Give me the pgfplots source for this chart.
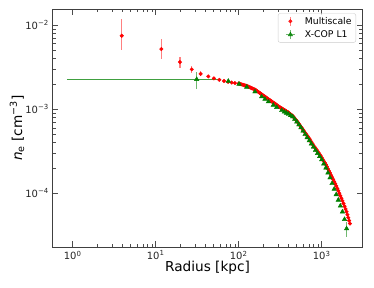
\documentclass[border=0pt]{standalone}
\usepackage{pgfplots}
\pgfplotsset{compat=1.18}
\usepackage{pgfplotstable}
\usepackage{fontspec}
\setmainfont{DejaVu Sans}
\usetikzlibrary{plotmarks}

\definecolor{mplgreen}{HTML}{008000}
\definecolor{errred}{HTML}{FF8080}
\definecolor{errgreen}{HTML}{70B870}
\definecolor{linegreen}{HTML}{40A040}

\pgfplotstableread{
x y
3.9 7.46e-3
11.7 5.18e-3
19.6 3.63e-3
27.2 2.97e-3
34.8 2.63e-3
43.0 2.45e-3
50.3 2.32e-3
58.4 2.23e-3
66.5 2.16e-3
74.5 2.11e-3
82.3 2.07e-3
90.1 2.04e-3
100 2.018e-3
102.9 2.001e-3
105.9 1.984e-3
109.0 1.967e-3
112.2 1.950e-3
115.5 1.933e-3
118.9 1.917e-3
122.4 1.900e-3
125.9 1.884e-3
129.6 1.860e-3
133.4 1.837e-3
137.3 1.812e-3
141.3 1.788e-3
145.4 1.765e-3
149.6 1.742e-3
154.0 1.720e-3
158.5 1.698e-3
163.1 1.664e-3
167.9 1.631e-3
172.8 1.599e-3
177.8 1.567e-3
183.0 1.536e-3
188.4 1.505e-3
193.9 1.475e-3
199.5 1.445e-3
205.3 1.416e-3
211.3 1.388e-3
217.5 1.361e-3
223.9 1.334e-3
230.4 1.307e-3
237.1 1.281e-3
244.1 1.255e-3
251.2 1.230e-3
258.5 1.206e-3
266.1 1.182e-3
273.8 1.158e-3
281.8 1.135e-3
290.0 1.112e-3
298.5 1.090e-3
307.2 1.068e-3
316.2 1.047e-3
325.5 1.029e-3
335.0 1.012e-3
344.8 9.94e-4
354.8 9.77e-4
365.1 9.60e-4
375.8 9.44e-4
386.8 9.28e-4
398.1 9.12e-4
409.7 8.91e-4
421.7 8.71e-4
434.0 8.51e-4
446.7 8.32e-4
459.8 8.04e-4
473.2 7.76e-4
487.0 7.50e-4
501.2 7.24e-4
515.8 6.96e-4
530.9 6.68e-4
546.4 6.42e-4
562.3 6.17e-4
578.8 5.93e-4
595.7 5.69e-4
613.1 5.47e-4
631.0 5.25e-4
649.4 5.04e-4
668.3 4.84e-4
687.8 4.65e-4
707.9 4.47e-4
728.6 4.27e-4
749.9 4.07e-4
771.8 3.89e-4
794.3 3.72e-4
817.5 3.57e-4
841.4 3.43e-4
866.0 3.29e-4
891.3 3.16e-4
917.3 3.03e-4
944.1 2.90e-4
971.6 2.78e-4
1000 2.66e-4
1029 2.53e-4
1059 2.41e-4
1090 2.30e-4
1122 2.19e-4
1155 2.07e-4
1189 1.95e-4
1224 1.84e-4
1259 1.74e-4
1296 1.64e-4
1334 1.55e-4
1373 1.46e-4
1413 1.38e-4
1454 1.30e-4
1496 1.22e-4
1540 1.14e-4
1585 1.07e-4
1631 1.00e-4
1679 9.33e-5
1728 8.71e-5
1778 8.13e-5
1830 7.55e-5
1884 7.00e-5
1939 6.50e-5
1995 6.03e-5
2041 5.56e-5
2089 5.13e-5
2138 4.73e-5
2188 4.37e-5
}\multiscale

\pgfplotstableread{
x y
75.0 2.153e-3
101 1.989e-3
125 1.832e-3
157 1.611e-3
189 1.406e-3
207 1.315e-3
228 1.227e-3
261 1.117e-3
287 1.052e-3
330 9.66e-4
354.8 9.28e-4
375.8 8.99e-4
398.1 8.71e-4
421.7 8.41e-4
446.7 8.13e-4
473.2 7.59e-4
501.2 7.08e-4
530.9 6.53e-4
562.3 6.03e-4
595.7 5.50e-4
631.0 5.01e-4
668.3 4.60e-4
707.9 4.22e-4
749.9 3.87e-4
794.3 3.55e-4
841.4 3.25e-4
891.3 2.99e-4
944.1 2.74e-4
1000 2.51e-4
1059 2.24e-4
1122 2.00e-4
1189 1.75e-4
1259 1.53e-4
1334 1.31e-4
1413 1.12e-4
1496 9.66e-5
1585 8.32e-5
1679 7.08e-5
1778 6.03e-5
1884 4.90e-5
1995 3.80e-5
}\xcop

\begin{document}
\begin{tikzpicture}
\begin{axis}[
  name=ax, at={(0,0)}, anchor=south west,
  scale only axis, width=310.4bp, height=238.3bp,
  xmode=log, ymode=log,
  xmin=0.568, xmax=3119, ymin=2.28e-5, ymax=0.0155,
  axis line style={black!75, line width=0.6pt},
  tick align=inside,
  major tick length=6bp, minor tick length=3.5bp,
  tick style={black!70, line width=0.5pt},
  xtick={1,10,100,1000},
  xticklabels={10\textsuperscript{0},10\textsuperscript{1},10\textsuperscript{2},10\textsuperscript{3}},
  ytick={1e-4,1e-3,1e-2},
  yticklabels={10\textsuperscript{−4},10\textsuperscript{−3},10\textsuperscript{−2}},
  tick label style={font=\fontsize{10}{12}\selectfont, text=black!85},
  xlabel={Radius [kpc]},
  ylabel={\textit{n}\textsubscript{e} [cm\textsuperscript{−3}]},
  every axis x label/.style={at={(axis description cs:0.5,-0.0587)}, anchor=north, inner sep=0pt, font=\fontsize{13.7}{16}\selectfont},
  every axis y label/.style={at={(axis description cs:-0.0896,0.5)}, anchor=south, rotate=90, inner sep=0pt, font=\fontsize{13.7}{16}\selectfont},
  legend style={at={(axis description cs:1,1)}, xshift=-6.7bp, yshift=-4.3bp, anchor=north east,
    draw=black!20, rounded corners=2bp, fill=white, fill opacity=0.8, text opacity=1,
    font=\fontsize{9.3}{11}\selectfont, inner xsep=2.3bp, inner ysep=1.5bp, row sep=1bp},
  legend cell align=left,
  unbounded coords=jump,
]
% Multiscale error bars (visible ones)
\addplot[errred, line width=1.25pt, no marks, forget plot] coordinates {
  (3.9,5.07e-3) (3.9,1.164e-2) (3.9,nan)
  (11.7,3.97e-3) (11.7,6.76e-3) (11.7,nan)
  (19.6,3.10e-3) (19.6,4.20e-3) (19.6,nan)
  (27.2,2.69e-3) (27.2,3.25e-3) (27.2,nan)
  (34.8,2.45e-3) (34.8,2.81e-3) (34.8,nan)
  (43.0,2.33e-3) (43.0,2.57e-3) (43.0,nan)
  (50.3,2.23e-3) (50.3,2.41e-3) (50.3,nan)
  (58.4,2.15e-3) (58.4,2.31e-3) (58.4,nan)
  (66.5,2.10e-3) (66.5,2.22e-3)
};
\addplot[only marks, mark=*, mark size=1.8bp, red,
  /pgfplots/legend image code/.code={
    \path[draw=none, fill=none] (0bp,0bp) -- (22.6bp,0bp);
    \draw[errred, line width=1.25pt] (10bp,-4.5bp) -- (10bp,4.5bp);
    \draw[red, mark size=1.7bp] plot[mark=*] coordinates {(10bp,0bp)};}]
  table[x=x, y=y] {\multiscale};
\addlegendentry{Multiscale}
% X-COP error bars (visible ones)
\addplot[linegreen, line width=1pt, no marks, forget plot] coordinates {
  (0.85,2.26e-3) (61.55,2.26e-3)
};
\addplot[errgreen, line width=1.25pt, no marks, forget plot] coordinates {
  (31.2,1.73e-3) (31.2,2.79e-3) (31.2,nan)
  (1995,3.04e-5) (1995,4.56e-5)
};
\addplot[only marks, mark=triangle*, mark size=2.6bp, mplgreen,
  /pgfplots/legend image code/.code={
    \path[draw=none, fill=none] (0bp,0bp) -- (22.6bp,0bp);
    \draw[errgreen, line width=1.25pt] (10bp,-4.5bp) -- (10bp,4.5bp);
    \draw[errgreen, line width=1.25pt] (5.5bp,0bp) -- (14.5bp,0bp);
    \draw[mplgreen, mark size=2.5bp] plot[mark=triangle*] coordinates {(10bp,0bp)};}]
  table[x=x, y=y] {\xcop};
\addlegendentry{X-COP L1}
\addplot[only marks, mark=triangle*, mark size=2.6bp, mplgreen, forget plot]
  coordinates {(31.2,2.26e-3)};
\end{axis}
\path[use as bounding box] ([xshift=-52.3bp,yshift=-40.7bp]ax.south west) rectangle ([xshift=11.3bp,yshift=9bp]ax.north east);
\end{tikzpicture}
\end{document}
